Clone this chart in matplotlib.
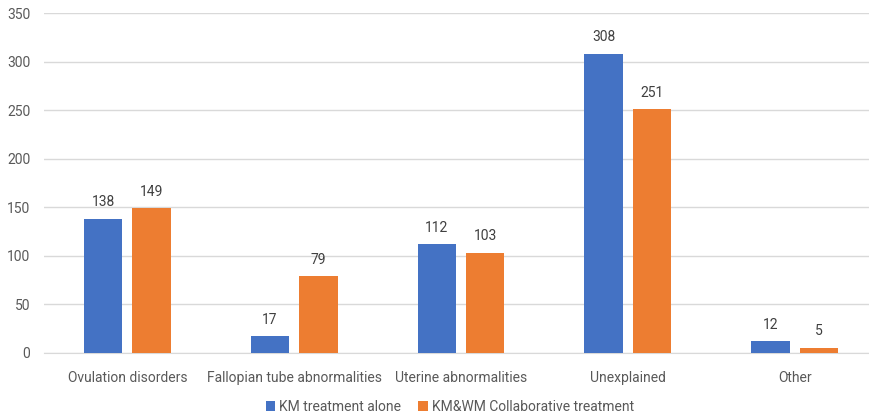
import matplotlib
matplotlib.use("Agg")
import matplotlib.pyplot as plt
import numpy as np

categories = ["Ovulation disorders", "Fallopian tube abnormalities", "Uterine abnormalities", "Unexplained", "Other"]
km_alone = [138, 17, 112, 308, 12]
km_wm = [149, 79, 103, 251, 5]
series_names = ["KM treatment alone", "KM&WM Collaborative treatment"]
yticks = [0, 50, 100, 150, 200, 250, 300, 350]

plt.rcParams['font.family'] = ['Roboto', 'DejaVu Sans']
txt = '#595959'
fs = 10

fig = plt.figure(figsize=(8.7, 4.17), dpi=100)
ax = fig.add_axes([0.0506, 0.1535, 0.9586, 0.815])

x = np.arange(len(categories))
w = 0.23
off = 0.145
b1 = ax.bar(x - off, km_alone, w, color='#4472C4', label=series_names[0], zorder=3)
b2 = ax.bar(x + off, km_wm, w, color='#ED7D31', label=series_names[1], zorder=3)
for bars, vals in ((b1, km_alone), (b2, km_wm)):
    for r, v in zip(bars, vals):
        ax.annotate(str(v), (r.get_x() + r.get_width() / 2, v), xytext=(0, 7),
                    textcoords='offset points', ha='center', va='bottom',
                    fontsize=fs, color='#404040')

ax.set_xlim(-0.5, len(categories) - 0.5)
ax.set_ylim(0, 350)
ax.set_yticks(yticks)
ax.set_xticks(x)
ax.set_xticklabels(categories)
ax.yaxis.grid(True, color='#D9D9D9', linewidth=1, zorder=0)
for s in ['top', 'right', 'left']:
    ax.spines[s].set_visible(False)
ax.spines['bottom'].set_color('#D9D9D9')
ax.tick_params(axis='both', length=0, labelsize=fs, colors=txt)
ax.tick_params(axis='x', pad=13)
ax.tick_params(axis='y', pad=10)

fig.legend(loc='lower center', bbox_to_anchor=(0.517, -0.022), ncol=2, frameon=False,
           fontsize=fs, labelcolor=txt, handlelength=0.7, handleheight=0.7,
           handletextpad=0.3, columnspacing=1.2)

fig.savefig('out.png', dpi=100)
